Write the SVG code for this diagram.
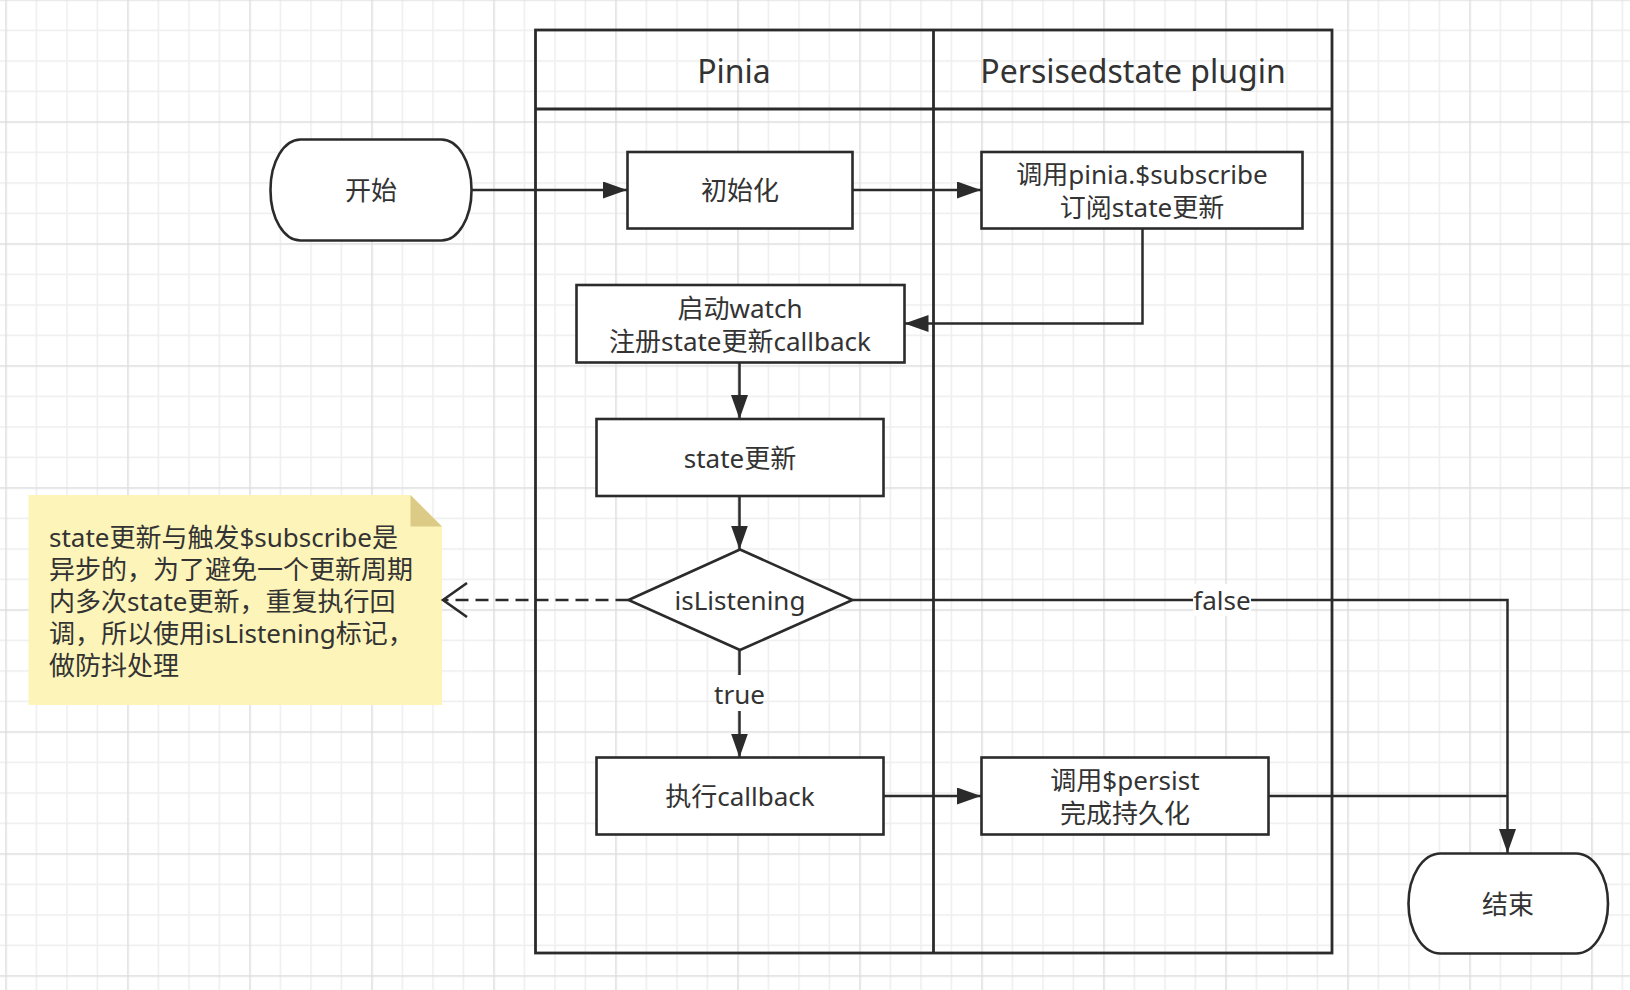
<svg xmlns="http://www.w3.org/2000/svg" width="1630" height="990" viewBox="0 0 1630 990">
<style>
.t{font-family:"Noto Sans","Noto Sans CJK SC",sans-serif;font-size:26px;fill:#333;text-anchor:middle;dominant-baseline:central}
.h{font-size:32px}
.box{fill:#fff;stroke:#2b2b2b;stroke-width:2.6}
.pool{fill:none;stroke:#2b2b2b;stroke-width:2.8}
.c{fill:none;stroke:#2b2b2b;stroke-width:2.5}
.lbl{fill:#fff}
</style>
<defs>
<pattern id="grid" patternUnits="userSpaceOnUse" x="5.25" y="-0.75" width="122" height="122">
<path d="M31.25 0V122M61.75 0V122M92.25 0V122M0 31.25H122M0 61.75H122M0 92.25H122" stroke="#eeeeee" stroke-width="1.5" fill="none"/>
<path d="M0.75 0V122M0 0.75H122" stroke="#dedede" stroke-width="1.5" fill="none"/>
</pattern>
<marker id="ah" markerUnits="userSpaceOnUse" markerWidth="26" markerHeight="18" refX="24" refY="8.5" orient="auto" viewBox="0 0 26 18">
<path d="M0 0L24 8.5L0 17z" fill="#2b2b2b"/>
</marker>
<marker id="oa" markerUnits="userSpaceOnUse" markerWidth="28" markerHeight="38" refX="25" refY="18" orient="auto" viewBox="0 0 28 38">
<path d="M1 1L25 18L1 35" fill="none" stroke="#2b2b2b" stroke-width="2.6"/>
</marker>
</defs>
<rect width="1630" height="990" fill="#fff"/>
<rect width="1630" height="990" fill="url(#grid)"/>

<g id="pool">
<rect x="535.5" y="30" width="796.5" height="923" fill="#fff" class="pool"/>
<line x1="535.5" y1="109" x2="1332" y2="109" class="pool"/>
<line x1="933.5" y1="30" x2="933.5" y2="953" class="pool"/>
<text class="t h" x="734" y="70">Pinia</text>
<text class="t h" x="1133" y="70">Persisedstate plugin</text>
</g>

<g id="note">
<path d="M28.5 495H410.5L442 526.5V705H28.5z" fill="#fcf4b8"/>
<path d="M410.5 495V526.5H442z" fill="#dccb86"/>
<text class="t" style="text-anchor:start" x="49">
<tspan x="49" y="537">state更新与触发$subscribe是</tspan>
<tspan x="49" y="569">异步的，为了避免一个更新周期</tspan>
<tspan x="49" y="601">内多次state更新，重复执行回</tspan>
<tspan x="49" y="633">调，所以使用isListening标记，</tspan>
<tspan x="49" y="665">做防抖处理</tspan>
</text>
</g>

<g id="connectors">
<path class="c" d="M471 190H627" marker-end="url(#ah)"/>
<path class="c" d="M852 190H981" marker-end="url(#ah)"/>
<path class="c" d="M1142.5 228.5V323.5H904.5" marker-end="url(#ah)"/>
<path class="c" d="M739.5 362.5V419" marker-end="url(#ah)"/>
<path class="c" d="M739.5 496V549.5" marker-end="url(#ah)"/>
<path class="c" d="M739.5 650V757.5" marker-end="url(#ah)"/>
<path class="c" d="M628.5 600H443" stroke-dasharray="13 7" marker-end="url(#oa)"/>
<path class="c" d="M852.5 600H1507.5V853" marker-end="url(#ah)"/>
<path class="c" d="M883.5 796H981" marker-end="url(#ah)"/>
<path class="c" d="M1268 796H1507.5"/>
<rect class="lbl" x="716" y="675" width="47" height="36"/>
<text class="t" x="739.5" y="694">true</text>
<rect class="lbl" x="1193" y="584" width="58" height="32"/>
<text class="t" x="1222" y="600">false</text>
</g>

<g id="start">
<rect x="270.5" y="139.5" width="201" height="101" rx="30" ry="50" class="box"/>
<text class="t" x="371" y="190">开始</text>
</g>
<g id="init">
<rect x="627.5" y="152" width="225" height="76.5" class="box"/>
<text class="t" x="740" y="190">初始化</text>
</g>
<g id="subscribe">
<rect x="981.5" y="152" width="321" height="76.5" class="box"/>
<text class="t" x="1142" y="174">调用pinia.$subscribe</text>
<text class="t" x="1142" y="207">订阅state更新</text>
</g>
<g id="watch">
<rect x="576.5" y="285" width="328" height="77.5" class="box"/>
<text class="t" x="740" y="308">启动watch</text>
<text class="t" x="740" y="341">注册state更新callback</text>
</g>
<g id="stateUpdate">
<rect x="596.5" y="419" width="287" height="77" class="box"/>
<text class="t" x="740" y="458">state更新</text>
</g>
<g id="isListening">
<path d="M628.5 600L740 549.5L852.5 600L740 650z" class="box"/>
<text class="t" x="740" y="600">isListening</text>
</g>
<g id="callback">
<rect x="596.5" y="757.5" width="287" height="77" class="box"/>
<text class="t" x="740" y="796">执行callback</text>
</g>
<g id="persist">
<rect x="981.5" y="757.5" width="287" height="77" class="box"/>
<text class="t" x="1125" y="780">调用$persist</text>
<text class="t" x="1125" y="813">完成持久化</text>
</g>
<g id="end">
<rect x="1408.5" y="853.5" width="199.5" height="100" rx="32" ry="50" class="box"/>
<text class="t" x="1508" y="904">结束</text>
</g>
</svg>
